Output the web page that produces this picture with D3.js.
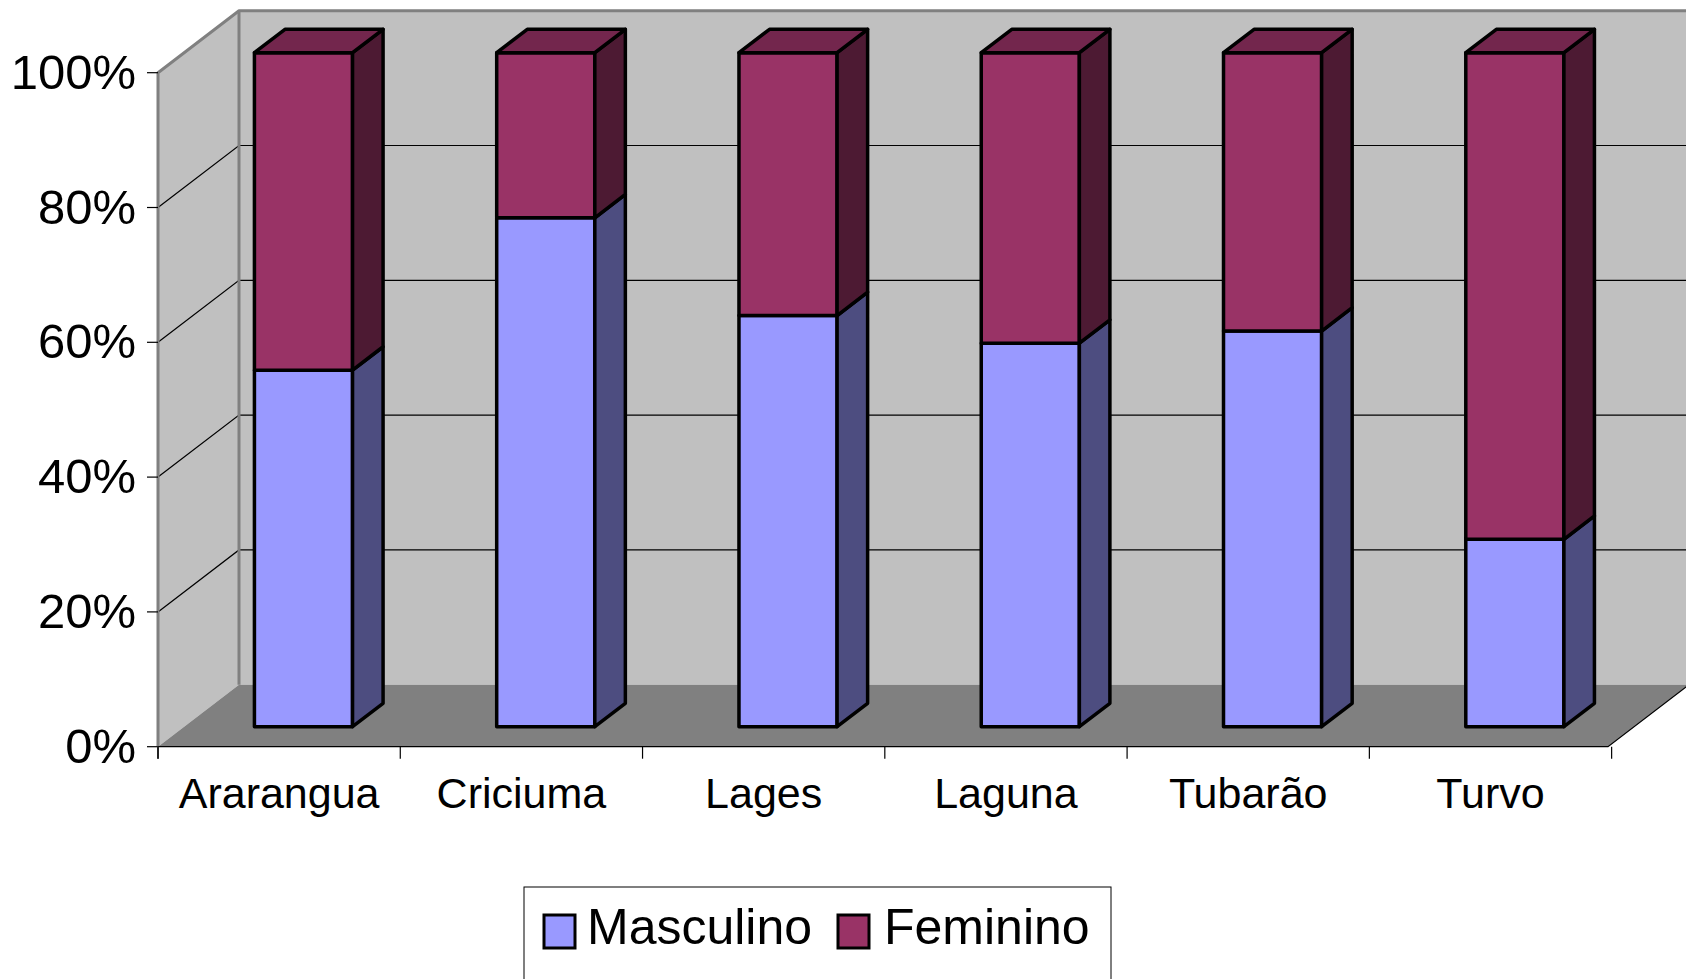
<!DOCTYPE html>
<html>
<head>
<meta charset="utf-8">
<script src="https://cdn.jsdelivr.net/npm/d3@7"></script>
<style>
  html, body { margin: 0; padding: 0; background: #fff; }
  text { font-family: "Liberation Sans", Arial, sans-serif; fill: #000; }
</style>
</head>
<body>
<svg id="chart"></svg>
<script>
// data (percent of each city)
const categories = ["Ararangua", "Criciuma", "Lages", "Laguna", "Tubarão", "Turvo"];
const masculino  = [52.9, 75.5, 61.0, 56.9, 58.7, 27.8];
const feminino   = [47.1, 24.5, 39.0, 43.1, 41.3, 72.2];
const seriesKeys = ["Masculino", "Feminino"];
const yTicks     = [0, 0.2, 0.4, 0.6, 0.8, 1];

const W = 1686, H = 979;
const COLORS = {
  Masculino: { front: "#9999ff", side: "#4d4d80", top: "#7373bf" },
  Feminino:  { front: "#993366", side: "#4d1a33", top: "#73264d" },
};

// 3d depth: full wall depth offset, and bar depth slice
const DX = 81, DY = -62;
const F0 = 0.323, F1 = 0.70;
const x0 = 158, x1 = 1608;

const svg = d3.select("#chart").attr("width", W).attr("height", H);
svg.append("rect").attr("width", W).attr("height", H).attr("fill", "#fff");

const x = d3.scaleBand().domain(categories).range([x0, x1])
  .paddingInner(0.595).paddingOuter(0.29);
const y = d3.scaleLinear().domain([0, 1]).range([746.7, 72.7]);

const pt = (px, py, f) => [px + f * DX, py + f * DY];
const poly = (pts) => "M" + pts.map(p => p.join(",")).join("L") + "Z";

// walls
const yb = y(0), yt = y(1);
svg.append("path")
  .attr("d", poly([[x0, yb], [x0, yt], pt(x0, yt, 1), pt(x0, yb, 1)]))
  .attr("fill", "#c0c0c0");
svg.append("path")
  .attr("d", poly([pt(x0, yt, 1), pt(x1, yt, 1), pt(x1, yb, 1), pt(x0, yb, 1)]))
  .attr("fill", "#c0c0c0");

// gridlines
const grid = svg.append("g").attr("stroke", "#000").attr("stroke-width", 1.2).attr("fill", "none");
yTicks.filter(t => t > 0 && t < 1).forEach(t => {
  const a = [x0, y(t)], b = pt(x0, y(t), 1), c = pt(x1, y(t), 1);
  grid.append("path").attr("d", "M" + a + "L" + b + "L" + c);
});

// floor
svg.append("path")
  .attr("d", poly([[x0, yb], pt(x0, yb, 1), pt(x1, yb, 1), [x1, yb]]))
  .attr("fill", "#808080");

// wall outlines
const edge = svg.append("g").attr("stroke", "#808080").attr("stroke-width", 3)
  .attr("fill", "none").attr("stroke-linejoin", "round");
edge.append("path").attr("d", "M" + [x0, yb] + "L" + [x0, yt] + "L" + pt(x0, yt, 1) + "L" + pt(x1 + 10, yt, 1));
edge.append("path").attr("d", "M" + pt(x0, yt, 1) + "L" + pt(x0, yb, 1));

// floor front and right edge
svg.append("path")
  .attr("d", "M" + [x0, yb] + "L" + [x1, yb] + "L" + pt(x1, yb, 1))
  .attr("stroke", "#000").attr("stroke-width", 1.2).attr("fill", "none");

// axes
const yAxis = svg.append("g");
yTicks.forEach(t => {
  yAxis.append("line").attr("x1", 147).attr("x2", x0).attr("y1", y(t)).attr("y2", y(t))
    .attr("stroke", "#000").attr("stroke-width", 1.2);
  yAxis.append("text").attr("x", 136).attr("y", y(t) + 16)
    .attr("text-anchor", "end").attr("font-size", 49)
    .text(d3.format(".0%")(t));
});
svg.append("line").attr("x1", x0).attr("x2", x0).attr("y1", yb).attr("y2", yb + 12)
  .attr("stroke", "#555").attr("stroke-width", 2);

const step = x.step();
d3.range(categories.length + 1).forEach(i => {
  const tx = x0 + i * step;
  svg.append("line").attr("x1", tx).attr("x2", tx).attr("y1", yb).attr("y2", yb + 12)
    .attr("stroke", "#000").attr("stroke-width", 1.2);
});
categories.forEach((c, i) => {
  svg.append("text").attr("x", x0 + (i + 0.5) * step).attr("y", 808)
    .attr("text-anchor", "middle").attr("font-size", 43).text(c);
});

// stacked bars
const rows = categories.map((c, i) => ({ city: c, Masculino: masculino[i], Feminino: feminino[i] }));
const stack = d3.stack().keys(seriesKeys).offset(d3.stackOffsetExpand)(rows);
const bars = svg.append("g").attr("stroke", "#000").attr("stroke-width", 3.5)
  .attr("stroke-linejoin", "round");

categories.forEach((c, i) => {
  const bx0 = x(c), bx1 = x(c) + x.bandwidth();
  stack.forEach((s, si) => {
    const col = COLORS[s.key];
    const yl = y(s[i][0]), yh = y(s[i][1]);
    // front
    bars.append("path").attr("fill", col.front)
      .attr("d", poly([pt(bx0, yl, F0), pt(bx0, yh, F0), pt(bx1, yh, F0), pt(bx1, yl, F0)]));
    // side
    bars.append("path").attr("fill", col.side)
      .attr("d", poly([pt(bx1, yl, F0), pt(bx1, yh, F0), pt(bx1, yh, F1), pt(bx1, yl, F1)]));
    // top of the stack
    if (si === stack.length - 1) {
      bars.append("path").attr("fill", col.top)
        .attr("d", poly([pt(bx0, yh, F0), pt(bx0, yh, F1), pt(bx1, yh, F1), pt(bx1, yh, F0)]));
    }
  });
});

// legend
const lg = svg.append("g");
lg.append("rect").attr("x", 524).attr("y", 887).attr("width", 587).attr("height", 130)
  .attr("fill", "#fff").attr("stroke", "#000").attr("stroke-width", 1);
const legendX = [[544, 587], [838, 884]];
seriesKeys.forEach((k, i) => {
  lg.append("rect").attr("x", legendX[i][0]).attr("y", 915).attr("width", 31).attr("height", 33)
    .attr("fill", COLORS[k].front).attr("stroke", "#000").attr("stroke-width", 3);
  lg.append("text").attr("x", legendX[i][1]).attr("y", 944).attr("font-size", 50).text(k);
});
</script>
</body>
</html>
